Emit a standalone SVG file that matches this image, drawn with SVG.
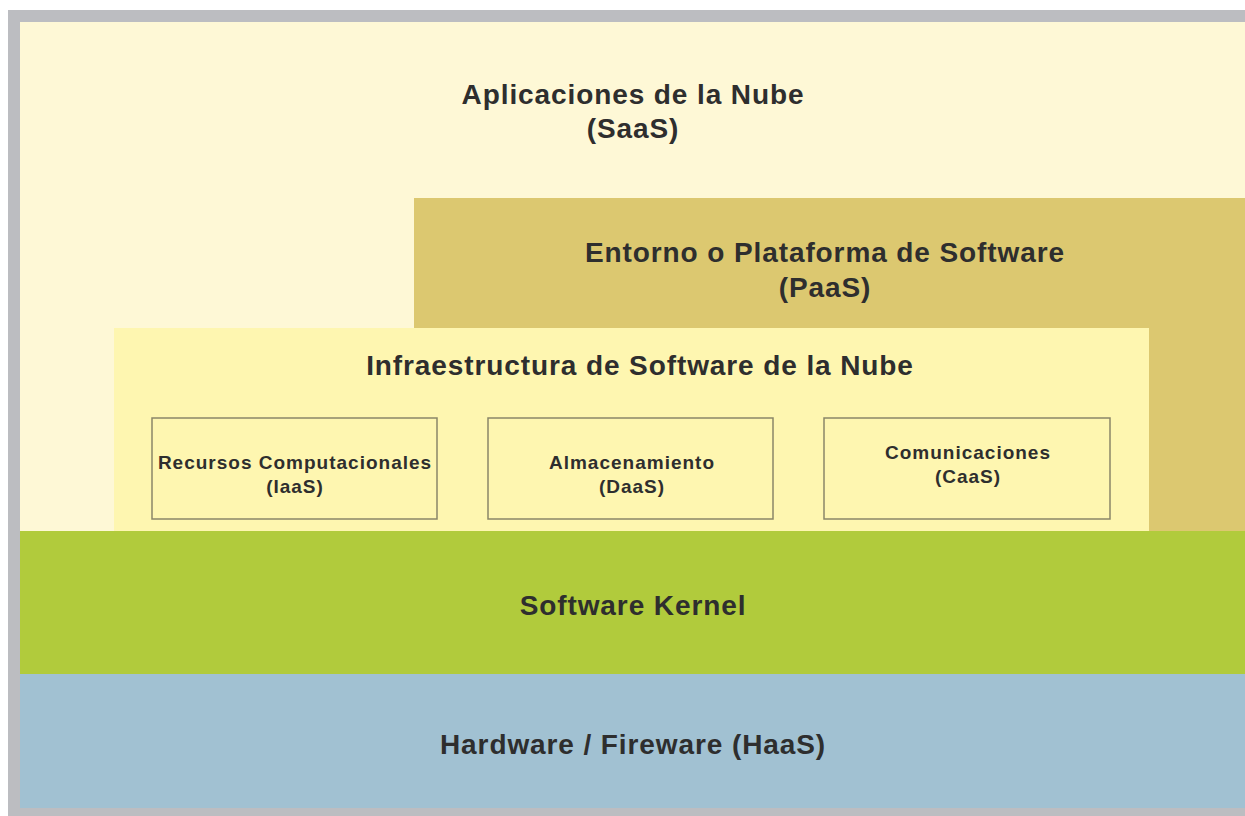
<svg xmlns="http://www.w3.org/2000/svg" width="1245" height="816" viewBox="0 0 1245 816">
  <style>
    .t { font-family: "Liberation Sans", Arial, sans-serif; font-weight: bold; fill: #2e2e2e; text-anchor: middle; }
    .big { font-size: 28px; letter-spacing: 0.9px; }
    .small { font-size: 19px; letter-spacing: 1px; }
    .box { fill: none; stroke: #8a8668; stroke-width: 1.5; }
  </style>
  <rect x="0" y="0" width="1245" height="816" fill="#ffffff"/>
  <!-- outer frame -->
  <rect x="8" y="10" width="1237" height="806" fill="#bcbdc1"/>

  <g id="saas">
    <rect x="20" y="22" width="1225" height="509" fill="#fef8d6"/>
    <text class="t big" x="633" y="104">Aplicaciones de la Nube</text>
    <text class="t big" x="633" y="138">(SaaS)</text>
  </g>

  <g id="paas">
    <rect x="414" y="198" width="831" height="333" fill="#dcc870"/>
    <text class="t big" x="825" y="262">Entorno o Plataforma de Software</text>
    <text class="t big" x="825" y="297">(PaaS)</text>
  </g>

  <g id="infra">
    <rect x="114" y="328" width="1035" height="203" fill="#fef6b0"/>
    <text class="t big" x="640" y="375">Infraestructura de Software de la Nube</text>
  </g>

  <g id="iaas">
    <rect class="box" x="152" y="418" width="285" height="101"/>
    <text class="t small" x="295" y="469">Recursos Computacionales</text>
    <text class="t small" x="295" y="493">(IaaS)</text>
  </g>

  <g id="daas">
    <rect class="box" x="488" y="418" width="285" height="101"/>
    <text class="t small" x="632" y="469">Almacenamiento</text>
    <text class="t small" x="632" y="493">(DaaS)</text>
  </g>

  <g id="caas">
    <rect class="box" x="824" y="418" width="286" height="101"/>
    <text class="t small" x="968" y="459">Comunicaciones</text>
    <text class="t small" x="968" y="483">(CaaS)</text>
  </g>

  <g id="kernel">
    <rect x="20" y="531" width="1225" height="143" fill="#b1cb3c"/>
    <text class="t big" x="633" y="615">Software Kernel</text>
  </g>

  <g id="hardware">
    <rect x="20" y="674" width="1225" height="134" fill="#a1c1d2"/>
    <text class="t big" x="633" y="754">Hardware / Fireware (HaaS)</text>
  </g>

  <g id="connectors"></g>
</svg>
